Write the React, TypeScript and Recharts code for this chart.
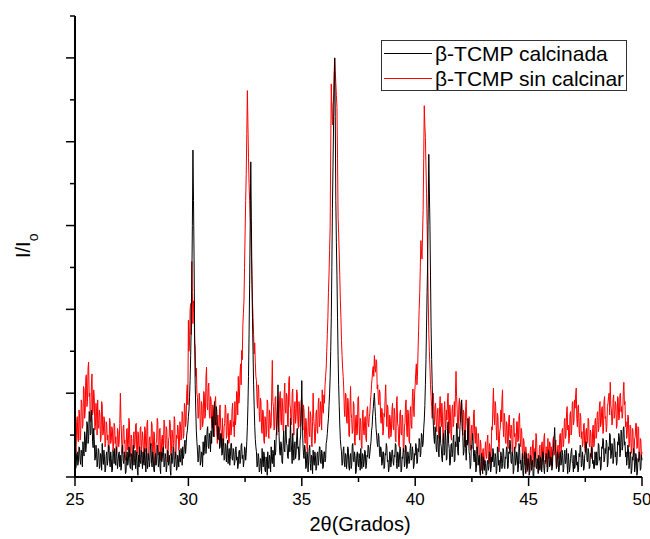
import React from "react";
import { LineChart, Line, XAxis, YAxis, Legend } from "recharts";

// 2θ grid: 25.000 .. 50.000 every 0.025°
const START = 25;
const STEP = 0.025;

// β-TCMP calcinada (black), one row per degree
const calcinada = [
  0.22, 0.10, 0.12, 0.28, 0.30, 0.14, 0.18, 0.36, 0.35, 0.20, 0.15, 0.32, 0.28, 0.12, 0.42, 0.30, 0.25, 0.54, 0.48, 0.30, 0.38, 0.66, 0.62, 0.40, 0.45, 0.78, 0.75, 0.50, 0.52, 0.80, 0.68, 0.42, 0.35, 0.58, 0.45, 0.20, 0.22, 0.38, 0.30, 0.12,
  0.18, 0.34, 0.32, 0.10, 0.12, 0.28, 0.26, 0.08, 0.40, 0.22, 0.15, 0.32, 0.24, 0.06, 0.10, 0.26, 0.30, 0.14, 0.20, 0.38, 0.36, 0.18, 0.12, 0.30, 0.22, 0.06, 0.08, 0.32, 0.28, 0.16, 0.34, 0.20, 0.14, 0.36, 0.24, 0.10, 0.18, 0.28, 0.30, 0.12,
  0.26, 0.08, 0.12, 0.34, 0.38, 0.20, 0.16, 0.30, 0.22, 0.04, 0.06, 0.24, 0.30, 0.14, 0.18, 0.36, 0.34, 0.12, 0.10, 0.28, 0.24, 0.08, 0.28, 0.38, 0.14, 0.22, 0.32, 0.10, 0.20, 0.30, 0.08, 0.02, 0.26, 0.12, 0.36, 0.20, 0.16, 0.32, 0.22, 0.10,
  0.30, 0.16, 0.14, 0.34, 0.20, 0.06, 0.34, 0.18, 0.10, 0.28, 0.26, 0.12, 0.18, 0.36, 0.40, 0.16, 0.12, 0.30, 0.24, 0.08, 0.06, 0.22, 0.28, 0.14, 0.20, 0.38, 0.32, 0.12, 0.16, 0.30, 0.10, 0.04, 0.30, 0.18, 0.22, 0.34, 0.36, 0.12, 0.14, 0.28,
  0.24, 0.06, 0.12, 0.32, 0.30, 0.14, 0.18, 0.26, 0.08, 0.02, 0.28, 0.16, 0.20, 0.36, 0.34, 0.12, 0.14, 0.30, 0.26, 0.08, 0.10, 0.26, 0.22, 0.12, 0.32, 0.18, 0.18, 0.34, 0.28, 0.14, 0.36, 0.22, 0.26, 0.40, 0.44, 0.28, 0.38, 0.50, 0.55, 0.62,
  0.72, 0.80, 0.95, 1.15, 1.45, 1.8, 2.3, 3.0, 3.9, 3.3, 2.6, 1.7, 1.1, 0.8, 0.55, 0.42, 0.32, 0.18, 0.22, 0.38, 0.36, 0.14, 0.18, 0.30, 0.28, 0.12, 0.42, 0.26, 0.30, 0.48, 0.50, 0.28, 0.38, 0.56, 0.60, 0.36, 0.34, 0.52, 0.46, 0.30,
  0.55, 0.40, 0.72, 0.58, 0.48, 0.76, 0.90, 0.62, 0.62, 0.84, 0.80, 0.50, 0.45, 0.60, 0.58, 0.34, 0.36, 0.52, 0.50, 0.26, 0.28, 0.46, 0.42, 0.20, 0.22, 0.40, 0.38, 0.18, 0.30, 0.44, 0.16, 0.28, 0.34, 0.14, 0.24, 0.40, 0.40, 0.22, 0.20, 0.34,
  0.30, 0.14, 0.18, 0.34, 0.36, 0.20, 0.24, 0.10, 0.14, 0.30, 0.32, 0.16, 0.20, 0.38, 0.40, 0.22, 0.26, 0.12, 0.18, 0.36, 0.34, 0.20, 0.28, 0.42, 0.60, 0.85, 1.2, 1.7, 2.3, 3.0, 3.76, 3.1, 2.4, 1.9, 1.5, 1.1, 0.85, 0.6, 0.45, 0.36,
  0.30, 0.12, 0.14, 0.28, 0.24, 0.06, 0.08, 0.22, 0.20, 0.04, 0.34, 0.18, 0.12, 0.30, 0.26, 0.08, 0.06, 0.24, 0.18, 0.02, 0.30, 0.14, 0.10, 0.26, 0.22, 0.06, 0.36, 0.20, 0.16, 0.32, 0.28, 0.12, 0.44, 0.26, 0.30, 0.50, 0.62, 0.80, 1.1, 0.75,
  0.48, 0.30, 0.26, 0.42, 0.40, 0.18, 0.16, 0.36, 0.55, 0.34, 0.30, 0.50, 0.62, 0.40, 0.38, 0.24, 0.22, 0.40, 0.46, 0.30, 0.70, 0.44, 0.32, 0.16, 0.52, 0.34, 0.20, 0.40, 0.42, 0.22, 0.28, 0.48, 0.58, 0.34, 0.36, 0.20, 0.24, 0.44, 0.50, 0.80,
  1.15, 0.70, 0.40, 0.26, 0.22, 0.38, 0.34, 0.10, 0.12, 0.30, 0.28, 0.06, 0.18, 0.34, 0.38, 0.16, 0.08, 0.26, 0.24, 0.04, 0.32, 0.18, 0.14, 0.30, 0.26, 0.08, 0.10, 0.28, 0.30, 0.14, 0.20, 0.36, 0.36, 0.18, 0.16, 0.32, 0.28, 0.10, 0.12, 0.30,
  0.30, 0.18, 0.22, 0.40, 0.44, 0.52, 0.62, 0.70, 0.85, 1.0, 1.19, 1.5, 1.9, 2.5, 3.2, 3.7, 4.2, 4.6, 5.0, 4.3, 3.3, 2.8, 2.4, 1.9, 1.45, 1.1, 0.85, 0.62, 0.45, 0.36, 0.30, 0.14, 0.16, 0.32, 0.36, 0.18, 0.12, 0.28, 0.26, 0.10,
  0.20, 0.36, 0.34, 0.12, 0.08, 0.24, 0.28, 0.10, 0.14, 0.38, 0.40, 0.20, 0.18, 0.30, 0.24, 0.04, 0.06, 0.26, 0.30, 0.16, 0.12, 0.28, 0.22, 0.08, 0.34, 0.20, 0.10, 0.28, 0.26, 0.12, 0.18, 0.32, 0.30, 0.10, 0.14, 0.26, 0.24, 0.38, 0.36, 0.22,
  0.28, 0.36, 0.42, 0.55, 0.60, 0.74, 0.82, 0.92, 1.0, 0.84, 0.72, 0.58, 0.50, 0.40, 0.36, 0.52, 0.48, 0.30, 0.24, 0.36, 0.34, 0.14, 0.16, 0.30, 0.30, 0.10, 0.12, 0.28, 0.26, 0.40, 0.36, 0.18, 0.20, 0.06, 0.10, 0.30, 0.28, 0.12, 0.18, 0.32,
  0.32, 0.18, 0.14, 0.26, 0.24, 0.40, 0.38, 0.16, 0.10, 0.30, 0.28, 0.12, 0.20, 0.36, 0.34, 0.06, 0.08, 0.24, 0.22, 0.34, 0.30, 0.12, 0.16, 0.38, 0.36, 0.10, 0.12, 0.30, 0.26, 0.16, 0.18, 0.34, 0.40, 0.20, 0.22, 0.36, 0.30, 0.10, 0.14, 0.28,
  0.26, 0.40, 0.36, 0.16, 0.18, 0.34, 0.30, 0.46, 0.42, 0.24, 0.28, 0.52, 0.50, 0.36, 0.40, 0.58, 0.68, 0.85, 1.1, 1.4, 1.8, 2.2, 2.6, 3.2, 3.85, 3.4, 3.0, 2.4, 1.8, 1.4, 1.1, 0.8, 0.62, 0.48, 0.40, 0.60, 0.55, 0.34, 0.30, 0.50,
  0.48, 0.30, 0.24, 0.50, 0.60, 0.40, 0.36, 0.22, 0.18, 0.44, 0.52, 0.26, 0.30, 0.56, 0.44, 0.20, 0.22, 0.58, 0.66, 0.40, 0.34, 0.14, 0.16, 0.38, 0.40, 0.24, 0.28, 0.46, 0.50, 0.18, 0.20, 0.42, 0.36, 0.64, 0.58, 0.30, 0.26, 0.48, 0.42, 0.60,
  0.72, 0.84, 0.92, 0.60, 0.48, 0.26, 0.30, 0.52, 0.56, 0.34, 0.20, 0.44, 0.38, 0.70, 0.62, 0.30, 0.26, 0.10, 0.14, 0.38, 0.34, 0.52, 0.46, 0.24, 0.18, 0.32, 0.28, 0.06, 0.10, 0.36, 0.32, 0.14, 0.22, 0.26, 0.06, 0.02, 0.20, 0.28, 0.12, 0.04,
  0.24, 0.14, 0.08, 0.20, 0.16, 0.02, 0.04, 0.18, 0.20, 0.08, 0.12, 0.30, 0.28, 0.06, 0.10, 0.24, 0.18, 0.34, 0.30, 0.12, 0.14, 0.28, 0.24, 0.04, 0.08, 0.36, 0.34, 0.14, 0.20, 0.06, 0.12, 0.30, 0.26, 0.10, 0.16, 0.34, 0.30, 0.12, 0.10, 0.24,
  0.22, 0.36, 0.34, 0.10, 0.12, 0.30, 0.28, 0.44, 0.40, 0.18, 0.16, 0.30, 0.24, 0.04, 0.08, 0.36, 0.32, 0.14, 0.18, 0.30, 0.26, 0.06, 0.10, 0.40, 0.36, 0.16, 0.20, 0.08, 0.14, 0.28, 0.04, 0.00, 0.22, 0.30, 0.12, 0.04, 0.28, 0.16, 0.08, 0.22,
  0.18, 0.02, 0.06, 0.26, 0.24, 0.08, 0.12, 0.20, 0.02, 0.00, 0.20, 0.30, 0.30, 0.12, 0.10, 0.22, 0.16, 0.04, 0.26, 0.14, 0.08, 0.24, 0.22, 0.06, 0.14, 0.30, 0.28, 0.10, 0.04, 0.20, 0.18, 0.28, 0.24, 0.06, 0.10, 0.32, 0.30, 0.12, 0.16, 0.24,
  0.22, 0.08, 0.12, 0.30, 0.34, 0.46, 0.59, 0.36, 0.28, 0.10, 0.14, 0.30, 0.24, 0.06, 0.08, 0.26, 0.30, 0.14, 0.18, 0.32, 0.26, 0.06, 0.10, 0.28, 0.32, 0.16, 0.20, 0.34, 0.14, 0.04, 0.28, 0.20, 0.06, 0.12, 0.22, 0.30, 0.34, 0.18, 0.16, 0.06,
  0.26, 0.10, 0.12, 0.32, 0.30, 0.14, 0.18, 0.06, 0.08, 0.28, 0.24, 0.38, 0.36, 0.12, 0.14, 0.30, 0.22, 0.08, 0.10, 0.26, 0.28, 0.42, 0.40, 0.20, 0.18, 0.34, 0.30, 0.10, 0.12, 0.28, 0.24, 0.36, 0.34, 0.16, 0.20, 0.10, 0.10, 0.30, 0.26, 0.14,
  0.30, 0.14, 0.18, 0.40, 0.38, 0.20, 0.24, 0.08, 0.12, 0.36, 0.34, 0.46, 0.44, 0.18, 0.20, 0.34, 0.28, 0.44, 0.40, 0.12, 0.16, 0.36, 0.32, 0.52, 0.50, 0.22, 0.26, 0.40, 0.36, 0.16, 0.22, 0.46, 0.42, 0.24, 0.30, 0.14, 0.18, 0.42, 0.38, 0.52,
  0.48, 0.24, 0.28, 0.56, 0.54, 0.32, 0.36, 0.58, 0.60, 0.38, 0.42, 0.24, 0.30, 0.14, 0.22, 0.38, 0.34, 0.10, 0.14, 0.30, 0.26, 0.04, 0.08, 0.24, 0.20, 0.34, 0.30, 0.06, 0.12, 0.28, 0.24, 0.02, 0.06, 0.22, 0.18, 0.30, 0.28, 0.08, 0.10, 0.26,
  0.20,
];

// β-TCMP sin calcinar (red)
const sinCalcinar = [
  0.55, 0.34, 0.30, 0.66, 0.72, 0.46, 0.42, 0.80, 0.76, 0.44, 0.50, 0.92, 0.88, 0.58, 0.62, 1.08, 1.05, 0.70, 0.78, 1.18, 1.22, 0.84, 0.90, 1.30, 1.37, 0.96, 1.0, 0.66, 0.72, 1.12, 1.23, 0.74, 0.80, 1.04, 0.95, 0.56, 0.60, 0.88, 0.78, 0.50,
  0.92, 0.62, 0.58, 0.80, 0.74, 0.42, 0.46, 0.90, 0.86, 0.50, 0.52, 0.72, 0.68, 0.36, 0.40, 0.66, 0.62, 0.44, 0.50, 0.30, 0.34, 0.70, 0.66, 0.40, 0.44, 0.60, 0.56, 0.32, 0.36, 0.64, 0.60, 0.40, 0.48, 0.26, 0.30, 0.58, 0.54, 0.36, 0.42, 0.64,
  1.0, 0.70, 0.50, 0.28, 0.32, 0.60, 0.62, 0.40, 0.44, 0.20, 0.24, 0.56, 0.58, 0.32, 0.36, 0.70, 0.66, 0.24, 0.28, 0.50, 0.46, 0.16, 0.18, 0.46, 0.54, 0.34, 0.40, 0.62, 0.64, 0.26, 0.30, 0.54, 0.50, 0.18, 0.22, 0.58, 0.60, 0.32, 0.38, 0.54,
  0.46, 0.22, 0.26, 0.60, 0.56, 0.30, 0.34, 0.64, 0.68, 0.24, 0.20, 0.44, 0.48, 0.34, 0.38, 0.66, 0.62, 0.22, 0.28, 0.54, 0.52, 0.14, 0.16, 0.40, 0.44, 0.70, 0.66, 0.26, 0.30, 0.56, 0.58, 0.20, 0.24, 0.46, 0.50, 0.32, 0.36, 0.68, 0.64, 0.40,
  0.34, 0.60, 0.56, 0.18, 0.22, 0.44, 0.48, 0.68, 0.64, 0.26, 0.30, 0.56, 0.52, 0.36, 0.40, 0.72, 0.68, 0.22, 0.26, 0.50, 0.46, 0.62, 0.58, 0.32, 0.36, 0.66, 0.62, 0.44, 0.50, 0.78, 0.74, 0.46, 0.50, 0.88, 0.84, 0.60, 0.66, 1.0, 1.1, 0.86,
  1.87, 1.5, 1.6, 2.0, 2.07, 1.7, 2.57, 2.2, 1.83, 2.1, 2.1, 1.6, 1.55, 1.2, 1.3, 1.0, 0.95, 0.70, 0.72, 1.0, 0.90, 0.56, 0.58, 0.90, 0.85, 0.60, 0.66, 1.02, 1.0, 0.70, 0.74, 1.2, 1.31, 0.84, 0.80, 1.08, 1.12, 0.74, 0.70, 0.96,
  0.92, 0.64, 0.58, 0.86, 0.80, 0.52, 0.48, 0.90, 0.96, 0.66, 0.62, 0.40, 0.74, 0.50, 0.44, 0.82, 0.86, 0.58, 0.54, 0.36, 0.70, 0.46, 0.38, 0.60, 0.64, 0.86, 0.82, 0.46, 0.50, 0.74, 0.76, 0.40, 0.42, 0.64, 0.68, 0.50, 0.56, 0.80, 0.88, 0.60,
  0.66, 0.48, 0.90, 0.62, 0.72, 1.02, 1.0, 0.74, 1.2, 0.88, 0.95, 1.22, 1.35, 1.1, 1.51, 1.4, 1.8, 1.95, 2.1, 2.5, 2.9, 3.3, 3.61, 4.1, 4.61, 4.2, 3.81, 3.5, 3.3, 3.1, 2.98, 2.7, 2.42, 2.1, 1.9, 1.7, 1.47, 1.6, 1.37, 1.2,
  1.15, 0.92, 0.82, 1.10, 1.05, 0.74, 0.66, 0.94, 0.90, 0.56, 0.52, 0.80, 0.78, 0.44, 0.40, 0.72, 0.70, 0.48, 0.56, 0.92, 0.88, 0.52, 0.46, 0.80, 0.74, 0.58, 0.62, 1.0, 1.39, 0.90, 0.84, 0.56, 0.58, 0.94, 0.96, 0.62, 0.50, 0.82, 0.80, 0.54,
  0.70, 0.96, 1.02, 0.68, 0.62, 0.94, 0.88, 0.56, 0.54, 1.0, 1.12, 0.80, 0.76, 1.00, 0.96, 0.62, 0.60, 1.14, 1.20, 0.86, 0.82, 0.62, 0.66, 1.00, 1.05, 0.70, 0.50, 0.82, 0.90, 0.64, 0.72, 1.04, 1.0, 0.66, 0.58, 0.90, 0.84, 0.60, 0.64, 0.92,
  0.92, 0.62, 0.56, 0.86, 0.78, 0.46, 0.40, 0.70, 0.66, 0.36, 0.30, 0.60, 0.84, 0.54, 0.48, 0.78, 0.72, 0.42, 0.36, 0.66, 1.0, 0.70, 0.60, 0.40, 0.44, 0.76, 0.80, 0.56, 0.52, 0.88, 0.94, 0.60, 0.64, 0.90, 0.82, 0.56, 1.04, 0.80, 0.76, 0.98,
  0.88, 1.1, 1.2, 1.3, 1.5, 1.7, 1.9, 2.2, 2.42, 2.7, 2.98, 3.9, 4.69, 4.4, 4.2, 4.45, 4.49, 4.8, 5.0, 4.85, 4.7, 4.55, 4.41, 3.8, 3.1, 2.9, 2.66, 2.4, 2.11, 1.9, 1.63, 1.45, 1.3, 1.2, 1.05, 0.80, 0.72, 1.0, 0.98, 0.66,
  0.64, 0.94, 0.90, 0.50, 0.48, 0.84, 1.08, 0.76, 0.70, 0.52, 0.56, 0.90, 0.86, 0.42, 0.38, 0.70, 0.74, 0.50, 0.52, 0.94, 0.96, 0.62, 0.44, 0.70, 0.66, 0.38, 0.34, 0.76, 0.80, 0.54, 0.50, 0.70, 0.72, 0.46, 0.42, 0.80, 0.84, 0.64, 0.60, 0.72,
  0.76, 0.90, 0.98, 1.10, 1.18, 1.28, 1.32, 1.20, 1.45, 1.30, 1.25, 1.40, 1.38, 1.05, 1.1, 0.92, 0.86, 1.04, 1.0, 0.70, 0.64, 0.82, 0.78, 0.50, 0.54, 0.76, 0.72, 0.96, 1.1, 0.80, 0.60, 0.86, 0.82, 0.50, 0.46, 0.74, 0.70, 0.48, 0.52, 0.80,
  0.88, 0.60, 0.56, 0.82, 0.74, 0.46, 0.42, 0.90, 0.96, 0.64, 0.60, 0.38, 0.36, 0.76, 0.80, 0.52, 0.50, 0.74, 0.70, 0.34, 0.30, 0.60, 0.64, 0.88, 0.92, 0.56, 0.48, 0.80, 0.76, 0.44, 0.40, 0.78, 0.84, 0.62, 0.58, 0.96, 1.05, 0.84, 0.72, 1.0,
  1.1, 1.25, 1.35, 1.1, 1.2, 1.5, 1.75, 2.0, 2.2, 2.5, 2.82, 2.7, 2.6, 2.9, 3.18, 3.8, 4.43, 4.2, 4.05, 3.7, 3.38, 3.0, 2.58, 2.1, 1.71, 1.5, 1.3, 1.1, 0.96, 0.84, 0.70, 0.92, 1.0, 0.78, 0.62, 0.84, 0.88, 0.66, 0.54, 0.76,
  0.82, 0.56, 0.46, 0.84, 0.96, 0.70, 0.60, 0.88, 0.74, 0.44, 0.40, 0.78, 0.90, 0.66, 0.56, 0.80, 0.68, 0.92, 1.0, 0.70, 0.52, 0.86, 0.78, 0.50, 0.44, 0.80, 0.86, 0.60, 0.64, 0.90, 0.72, 1.0, 1.26, 0.96, 0.80, 0.58, 0.58, 0.86, 0.94, 0.70,
  0.66, 0.90, 0.88, 0.56, 0.50, 0.80, 0.76, 0.40, 0.36, 0.84, 0.92, 0.66, 0.58, 0.40, 0.44, 0.72, 0.70, 0.36, 0.32, 0.58, 0.62, 0.44, 0.48, 0.76, 0.80, 0.50, 0.40, 0.60, 0.56, 0.28, 0.30, 0.52, 0.46, 0.18, 0.20, 0.44, 0.38, 0.08, 0.12, 0.30,
  0.34, 0.14, 0.08, 0.30, 0.42, 0.26, 0.22, 0.44, 0.50, 0.24, 0.16, 0.40, 0.36, 0.18, 0.28, 0.60, 0.56, 0.86, 1.06, 0.74, 0.62, 0.90, 0.84, 0.56, 0.44, 0.76, 0.72, 0.40, 0.30, 0.54, 0.58, 0.80, 0.66, 0.92, 1.04, 0.62, 0.48, 0.76, 0.70, 0.44,
  0.40, 0.66, 0.62, 0.38, 0.34, 0.70, 0.74, 0.50, 0.46, 0.62, 0.58, 0.32, 0.30, 0.64, 0.70, 0.48, 0.52, 0.34, 0.38, 0.66, 0.66, 0.42, 0.44, 0.72, 0.76, 0.46, 0.36, 0.58, 0.54, 0.28, 0.22, 0.46, 0.42, 0.18, 0.14, 0.36, 0.30, 0.06, 0.08, 0.28,
  0.28, 0.10, 0.06, 0.32, 0.36, 0.14, 0.18, 0.40, 0.44, 0.20, 0.12, 0.34, 0.30, 0.52, 0.48, 0.22, 0.20, 0.06, 0.10, 0.34, 0.38, 0.16, 0.10, 0.40, 0.42, 0.20, 0.24, 0.46, 0.52, 0.26, 0.16, 0.36, 0.34, 0.12, 0.46, 0.30, 0.22, 0.42, 0.40, 0.14,
  0.36, 0.16, 0.20, 0.44, 0.48, 0.26, 0.30, 0.40, 0.44, 0.14, 0.12, 0.34, 0.38, 0.22, 0.26, 0.50, 0.52, 0.30, 0.34, 0.56, 0.58, 0.36, 0.40, 0.66, 0.70, 0.46, 0.50, 0.78, 0.84, 0.56, 0.62, 0.40, 0.46, 0.74, 0.78, 0.50, 0.56, 0.88, 0.90, 0.62,
  0.66, 0.92, 0.82, 0.98, 1.06, 0.70, 0.60, 0.84, 0.86, 0.56, 0.48, 0.76, 0.72, 0.46, 0.54, 0.36, 0.40, 0.62, 0.64, 0.34, 0.30, 0.54, 0.58, 0.40, 0.44, 0.70, 0.68, 0.38, 0.36, 0.56, 0.52, 0.22, 0.26, 0.58, 0.62, 0.36, 0.40, 0.66, 0.70, 0.46,
  0.50, 0.76, 0.78, 0.54, 0.58, 0.86, 0.90, 0.60, 0.64, 0.82, 0.84, 0.52, 0.54, 0.90, 0.96, 0.70, 0.72, 0.54, 0.60, 0.84, 0.88, 0.96, 1.0, 0.74, 1.13, 0.86, 0.80, 0.62, 0.66, 0.92, 0.98, 0.70, 0.74, 0.90, 0.86, 0.58, 0.62, 0.96, 0.94, 0.68,
  0.70, 0.98, 1.0, 0.78, 0.84, 0.70, 0.76, 1.02, 1.13, 0.86, 0.90, 0.60, 0.66, 0.46, 0.52, 0.74, 0.72, 0.36, 0.40, 0.62, 0.60, 0.28, 0.32, 0.58, 0.56, 0.24, 0.26, 0.46, 0.48, 0.64, 0.64, 0.34, 0.36, 0.60, 0.58, 0.20, 0.22, 0.46, 0.44, 0.24,
  0.30,
];

const xTicks = [25, 27.5, 30, 32.5, 35, 37.5, 40, 42.5, 45, 47.5, 50];
const yTicks = [0, 0.5, 1, 1.5, 2, 2.5, 3, 3.5, 4, 4.5, 5, 5.5];
const seriesNames = ["β-TCMP calcinada", "β-TCMP sin calcinar"];
const seriesColors = ["#000000", "#ff0000"];

const FONT = "'Liberation Sans', Arial, sans-serif";

const data = calcinada.map((v, i) => ({
  x: Number((START + i * STEP).toFixed(3)),
  calcinada: v,
  sinCalcinar: sinCalcinar[i],
}));

const isMajorX = (v: number) => v % 5 === 0;
const isMajorY = (v: number) => v % 1 === 0;

const BottomTick = (props: any) => {
  const { x, y, payload } = props;
  const major = isMajorX(payload.value);
  return (
    <g>
      <line x1={x} x2={x} y1={y} y2={y + (major ? 9 : 5)} stroke="#000" strokeWidth={1.5} />
      {major && (
        <text x={x} y={y + 28} textAnchor="middle" fontSize={17} fontFamily={FONT} fill="#000">
          {payload.value}
        </text>
      )}
    </g>
  );
};

const TopTick = (props: any) => {
  const { x, y, payload } = props;
  const major = isMajorX(payload.value);
  return <line x1={x} x2={x} y1={y} y2={y - (major ? 9 : 5)} stroke="#000" strokeWidth={1.5} />;
};

const LeftTick = (props: any) => {
  const { x, y, payload } = props;
  const major = isMajorY(payload.value);
  return <line x1={x} x2={x - (major ? 9 : 5)} y1={y} y2={y} stroke="#000" strokeWidth={1.5} />;
};

const RightTick = (props: any) => {
  const { x, y, payload } = props;
  const major = isMajorY(payload.value);
  return <line x1={x} x2={x + (major ? 9 : 5)} y1={y} y2={y} stroke="#000" strokeWidth={1.5} />;
};

const XTitle = () => (
  <text x={360} y={531} textAnchor="middle" fontSize={20} fontFamily={FONT} fill="#000">
    2θ(Grados)
  </text>
);

const YTitle = () => (
  <text x={30} y={258} transform="rotate(-90 30 258)" fontSize={20} fontFamily={FONT} fill="#000">
    I/I
    <tspan dy={8} fontSize={14}>
      o
    </tspan>
  </text>
);

const renderLegend = () => (
  <div
    style={{
      boxSizing: "border-box",
      width: 246,
      height: 51,
      border: "1px solid #333",
      background: "#fff",
      fontFamily: FONT,
      fontSize: 21,
      lineHeight: "25px",
      color: "#000",
    }}
  >
    {seriesNames.map((name, i) => (
      <div key={name} style={{ display: "flex", alignItems: "center", height: 25, whiteSpace: "nowrap" }}>
        <span style={{ width: 48, borderTop: `1px solid ${seriesColors[i]}`, margin: "0 3px 0 2px" }} />
        <span>{name}</span>
      </div>
    ))}
  </div>
);

export default function App() {
  return (
    <div style={{ position: "absolute", left: 0, top: 0, width: 650, height: 539, background: "#fff" }}>
      <LineChart width={650} height={539} data={data} margin={{ top: 16, right: 8, bottom: 0, left: 0 }}>
        <XAxis
          dataKey="x"
          type="number"
          domain={[25, 50]}
          ticks={xTicks}
          interval={0}
          height={62}
          tickSize={0}
          tickMargin={0}
          tickLine={false}
          axisLine={{ stroke: "#000", strokeWidth: 2 }}
          tick={<BottomTick />}
          label={<XTitle />}
        />
        <XAxis
          xAxisId="top"
          orientation="top"
          dataKey="x"
          type="number"
          domain={[25, 50]}
          ticks={xTicks}
          interval={0}
          height={0}
          tickSize={0}
          tickMargin={0}
          tickLine={false}
          axisLine={{ stroke: "#000", strokeWidth: 2 }}
          tick={<TopTick />}
        />
        <YAxis
          type="number"
          domain={[0, 5.5]}
          ticks={yTicks}
          interval={0}
          width={75}
          tickSize={0}
          tickMargin={0}
          tickLine={false}
          axisLine={{ stroke: "#000", strokeWidth: 2 }}
          tick={<LeftTick />}
          label={<YTitle />}
        />
        <YAxis
          yAxisId="right"
          orientation="right"
          type="number"
          domain={[0, 5.5]}
          ticks={yTicks}
          interval={0}
          width={0}
          tickSize={0}
          tickMargin={0}
          tickLine={false}
          axisLine={{ stroke: "#000", strokeWidth: 2 }}
          tick={<RightTick />}
        />
        <Legend
          layout="horizontal"
          verticalAlign="middle"
          align="center"
          content={renderLegend}
          wrapperStyle={{ left: 381, top: 40, width: 246, height: 51 }}
        />
        <Line
          dataKey="sinCalcinar"
          name={seriesNames[1]}
          stroke={seriesColors[1]}
          strokeWidth={1}
          dot={false}
          type="linear"
          isAnimationActive={false}
        />
        <Line
          dataKey="calcinada"
          name={seriesNames[0]}
          stroke={seriesColors[0]}
          strokeWidth={1}
          dot={false}
          type="linear"
          isAnimationActive={false}
        />
      </LineChart>
    </div>
  );
}
